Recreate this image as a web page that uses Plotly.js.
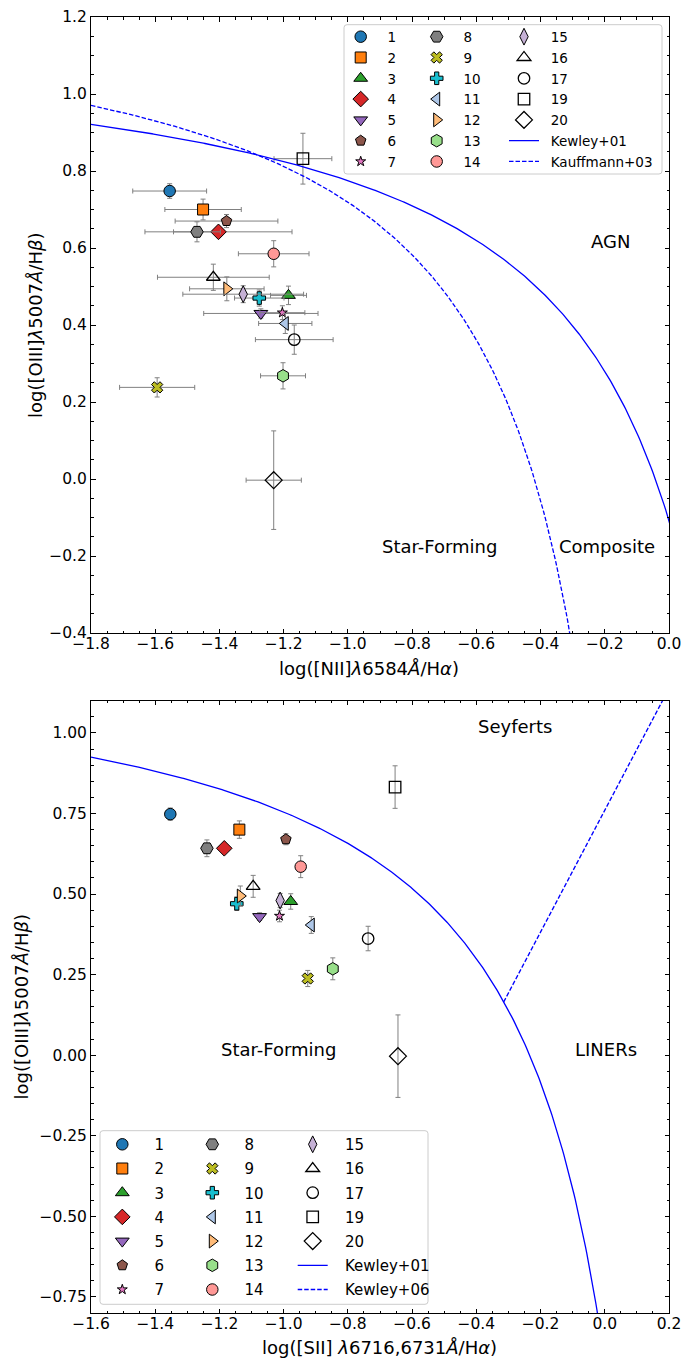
<!DOCTYPE html>
<html><head><meta charset="utf-8">
<script src="https://cdn.plot.ly/plotly-3.0.1.min.js"></script>
<style>body{margin:0;padding:0;background:#fff}#chart{width:685px;height:1360px}</style>
</head><body><div id="chart"></div>
<script>
// ---------------- data ----------------
const labels      = ['1','2','3','4','5','6','7','8','9','10','11','12','13','14','15','16','17','19','20'];
const logNII_Ha   = [-1.555,-1.451,-1.185,-1.403,-1.271,-1.378,-1.204,-1.470,-1.594,-1.276,-1.195,-1.377,-1.202,-1.231,-1.326,-1.419,-1.167,-1.140,-1.231];
const errNII_Ha   = [0.115,0.119,0.056,0.229,0.178,0.160,0.070,0.073,0.117,0.077,0.083,0.116,0.070,0.110,0.188,0.174,0.121,0.090,0.086];
const logOIII_Hb  = [0.748,0.700,0.477,0.642,0.430,0.670,0.432,0.642,0.238,0.470,0.404,0.494,0.268,0.585,0.480,0.524,0.362,0.832,-0.003];
const errOIII_Hb  = [0.019,0.027,0.024,0.012,0.012,0.017,0.018,0.026,0.025,0.021,0.026,0.031,0.034,0.034,0.022,0.034,0.038,0.066,0.128];
const logSII_Ha   = [-1.353,-1.138,-0.978,-1.185,-1.075,-0.993,-1.013,-1.239,-0.925,-1.146,-0.914,-1.135,-0.847,-0.947,-1.011,-1.095,-0.737,-0.653,-0.644];

// demarcation-line coefficients (published relations)
const kewley01_NII   = {a:0.61, b:0.47, c:1.19};
const kauffmann03    = {a:0.61, b:0.05, c:1.30};
const kewley01_SII   = {a:0.72, b:0.32, c:1.30};
const kewley06_SII   = {m:1.89, q:0.76};

// texts
const regionTextTop = ['AGN','Star-Forming','Composite'];
const regionTextBot = ['Seyferts','Star-Forming','LINERs'];
const titleXTop = 'log([NII]<i>λ</i>6584<i>Å</i>/H<i>α</i>)';
const titleXBot = 'log([SII] <i>λ</i>6716,6731<i>Å</i>/H<i>α</i>)';
const titleY    = 'log([OIII]<i>λ</i>5007<i>Å</i>/H<i>β</i>)';

// ---------------- styles ----------------
const symbols = ['circle','square','triangle-up','diamond','triangle-down','pentagon','star','hexagon2','x','cross',
                 'triangle-left','triangle-right','hexagon','circle','diamond-tall','triangle-up-open','circle-open','square-open','diamond-open'];
const colors  = ['#1f77b4','#ff7f0e','#2ca02c','#d62728','#9467bd','#8c564b','#e377c2','#7f7f7f','#bcbd22','#17becf',
                 '#aec7e8','#ffbb78','#98df8a','#ff9896','#c5b0d5','#000000','#000000','#000000','#000000'];
const sizes   = [11.5,11,12,12,12,11,7.5,12.5,10,10.5,12,12,12.5,11.5,12,12,11.5,11.5,13];

const FONT = 'DejaVu Sans';
const W = 685, H = 1360, ML = 91, MR = 16, MT = 17, MB = 47;
const PW = W-ML-MR, PH = H-MT-MB;
const pxX = v => (v-ML)/PW, pxY = v => (MT+PH-v)/PH;

function range(a,b,s){const o=[];for(let v=a;v<=b+1e-9;v+=s)o.push(+v.toFixed(4));return o;}

const traces = [];
const topLeg = ['legend','legend2','legend3'];
const botLeg = ['legend4','legend5','legend6'];
const padTop = '\u2002', padBot = '\u2002\u00a0';
const DASH = '4.5px,2px';
const BLUE = '#0000ff';

function addPoints(xs, xerr, xa, ya, legs, pad, tag){
  for(let i=0;i<labels.length;i++){
    const open = symbols[i].endsWith('-open');
    const t = {
      type:'scatter', mode:'markers', x:[xs[i]], y:[logOIII_Hb[i]],
      xaxis:xa, yaxis:ya, name: pad+labels[i], legend: legs[Math.min(2,Math.floor(i/7))],
      legendgroup: tag+i,
      marker:{symbol:symbols[i], size:sizes[i], color: colors[i], line:{color:'black', width: open?1.3:1}},
      error_y:{type:'data', array:[errOIII_Hb[i]], visible:true, color:'#808080', thickness:1, width:2.5},
      hoverinfo:'x+y+name'
    };
    if(xerr) t.error_x = {type:'data', array:[xerr[i]], visible:true, color:'#808080', thickness:1, width:2.5};
    traces.push(t);
  }
}
addPoints(logNII_Ha, errNII_Ha, 'x', 'y', topLeg, padTop, 't');

const xk1 = range(-1.8, 0.3, 0.005);
traces.push({type:'scatter', mode:'lines', x:xk1, y:xk1.map(x=>kewley01_NII.a/(x-kewley01_NII.b)+kewley01_NII.c),
  xaxis:'x', yaxis:'y', name:padTop+'Kewley+01', legend:'legend3', legendgroup:'tk1', line:{color:BLUE, width:1.3}, hoverinfo:'skip'});
const xk3 = range(-1.8, -0.2, 0.005);
traces.push({type:'scatter', mode:'lines', x:xk3, y:xk3.map(x=>kauffmann03.a/(x-kauffmann03.b)+kauffmann03.c),
  xaxis:'x', yaxis:'y', name:padTop+'Kauffmann+03', legend:'legend3', legendgroup:'tk3', line:{color:BLUE, width:1.3, dash:DASH}, hoverinfo:'skip'});

addPoints(logSII_Ha, null, 'x2', 'y2', botLeg, padBot, 'b');
const xs1 = range(-1.6, 0.12, 0.004);
traces.push({type:'scatter', mode:'lines', x:xs1, y:xs1.map(x=>kewley01_SII.a/(x-kewley01_SII.b)+kewley01_SII.c),
  xaxis:'x2', yaxis:'y2', name:padBot+'Kewley+01', legend:'legend6', legendgroup:'bk1', line:{color:BLUE, width:1.3}, hoverinfo:'skip'});
const xs6 = [-0.315, 0.3];
traces.push({type:'scatter', mode:'lines', x:xs6, y:xs6.map(x=>kewley06_SII.m*x+kewley06_SII.q),
  xaxis:'x2', yaxis:'y2', name:padBot+'Kewley+06', legend:'legend6', legendgroup:'bk6', line:{color:BLUE, width:1.3, dash:DASH}, hoverinfo:'skip'});

// ---------------- layout ----------------
const axBase = (isX) => ({
  showline:true, linecolor:'black', linewidth:1, mirror:'allticks',
  ticks:'inside', ticklen:4.5, tickwidth:1, tickcolor:'black',
  showgrid:false, zeroline:false, fixedrange:true,
  ticklabelstandoff: isX ? -4 : 0,
  tickfont:{family:FONT, size:15.5, color:'black'}
});
const minor = d => ({ticks:'inside', ticklen:2.5, tickwidth:1, tickcolor:'black', showgrid:false, dtick:d});

const xaxis  = Object.assign(axBase(true),  {domain:[0,1], anchor:'y', range:[-1.8,0], tick0:-1.8, dtick:0.2, tickformat:'.1f', minor:minor(0.05)});
const yaxis  = Object.assign(axBase(false), {domain:[pxY(633),1], anchor:'x', range:[-0.4,1.2], tick0:0, dtick:0.2, tickformat:'.1f', minor:minor(0.05)});
const xaxis2 = Object.assign(axBase(true),  {domain:[0,1], anchor:'y2', range:[-1.6,0.2], tick0:-1.6, dtick:0.2, tickformat:'.1f', minor:minor(0.05)});
const yaxis2 = Object.assign(axBase(false), {domain:[0,pxY(700.7)], anchor:'x2', range:[-0.8,1.1], tick0:0, dtick:0.25, tickformat:'.2f', minor:minor(0.05)});

function legendAt(markerPx, rowTopPx, size, gap){
  return {x:pxX(markerPx-20), y:pxY(rowTopPx), xanchor:'left', yanchor:'top', orientation:'v',
    bgcolor:'rgba(0,0,0,0)', borderwidth:0, tracegroupgap:gap, traceorder:'grouped',
    font:{family:FONT, size:size, color:'black'}};
}
function roundedBox(x0,y0,x1,y1,r){
  const P=(x,y)=>pxX(x)+','+pxY(y);
  return 'M'+P(x0+r,y0)+' L'+P(x1-r,y0)+' Q'+P(x1,y0)+' '+P(x1,y0+r)+' L'+P(x1,y1-r)+' Q'+P(x1,y1)+' '+P(x1-r,y1)+
         ' L'+P(x0+r,y1)+' Q'+P(x0,y1)+' '+P(x0,y1-r)+' L'+P(x0,y0+r)+' Q'+P(x0,y0)+' '+P(x0+r,y0)+' Z';
}
const topRowTop = 36.7-15.3, botRowTop = 1144.3-16.25;

const annFont = {family:FONT, size:18, color:'black'};
const ann = (t,x,y,xr,yr) => ({text:t, x:x, y:y, xref:xr, yref:yr, showarrow:false, xanchor:'left', yanchor:'middle', font:annFont});
const axTitle = (t,xp,yp,rot) => ({text:t, x:pxX(xp), y:pxY(yp), xref:'paper', yref:'paper', showarrow:false,
  xanchor:'center', yanchor:'middle', textangle:rot, font:annFont});

const layout = {
  width:W, height:H, margin:{l:ML, r:MR, t:MT, b:MB},
  paper_bgcolor:'white', plot_bgcolor:'white', showlegend:true,
  font:{family:FONT, color:'black'},
  xaxis, yaxis, xaxis2, yaxis2,
  legend:  legendAt(360.7, topRowTop, 13.5, 0.25),
  legend2: legendAt(436.7, topRowTop, 13.5, 0.25),
  legend3: legendAt(524.0, topRowTop, 13.5, 0.25),
  legend4: legendAt(122.3, botRowTop, 15, 1.7),
  legend5: legendAt(212.3, botRowTop, 15, 1.7),
  legend6: legendAt(312.7, botRowTop, 15, 1.7),
  shapes:[
    {type:'path', xref:'paper', yref:'paper', layer:'above', path:roundedBox(344,24.7,662,174,3), fillcolor:'rgba(255,255,255,0.8)', line:{color:'#cccccc', width:1}},
    {type:'path', xref:'paper', yref:'paper', layer:'above', path:roundedBox(100,1130.7,428,1304.3,3), fillcolor:'rgba(255,255,255,0.8)', line:{color:'#cccccc', width:1}}
  ],
  annotations:[
    ann(regionTextTop[0], -0.25, 0.616, 'x', 'y'),
    ann(regionTextTop[1], -0.9, -0.176, 'x', 'y'),
    ann(regionTextTop[2], -0.35, -0.176, 'x', 'y'),
    ann(regionTextBot[0], -0.4, 1.021, 'x2', 'y2'),
    ann(regionTextBot[1], -1.2, 0.018, 'x2', 'y2'),
    ann(regionTextBot[2], -0.1, 0.018, 'x2', 'y2'),
    axTitle(titleXTop, 369, 668, 0),
    axTitle(titleXBot, 379, 1347, 0),
    axTitle(titleY, 36, 325, -90),
    axTitle(titleY, 21, 1006.5, -90)
  ]
};
Plotly.newPlot('chart', traces, layout, {displayModeBar:false, staticPlot:true});
</script></body></html>
